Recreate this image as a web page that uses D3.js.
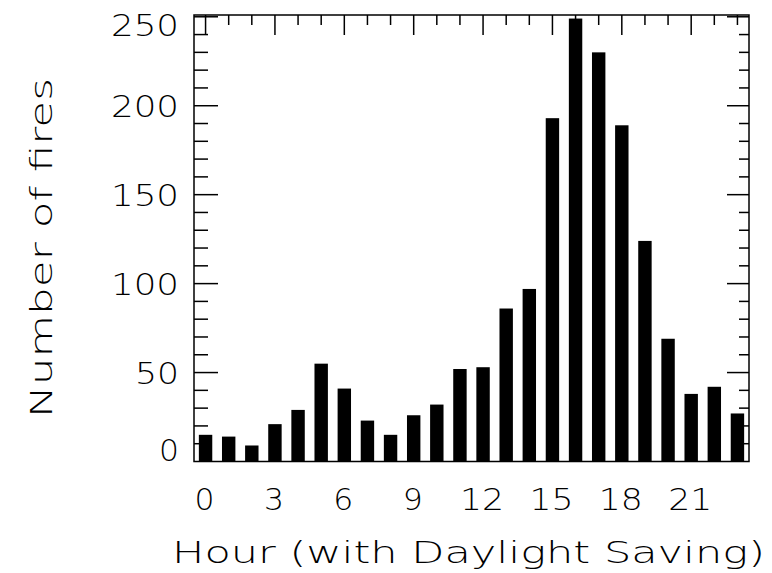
<!DOCTYPE html>
<html>
<head>
  <meta charset="utf-8">
  <script src="https://d3js.org/d3.v7.min.js"></script>
  <style>
    body { margin: 0; background: #fff; }
    text { font-family: "DejaVu Sans", sans-serif; font-weight: 200; fill: #000; }
  </style>
</head>
<body>
<div id="chart"></div>
<script>
  // fires per hour of the day (0..23)
  var hours = d3.range(0, 24);
  var fires = [15, 14, 9, 21, 29, 55, 41, 23, 15, 26, 32, 52, 53, 86, 97, 193, 249, 230, 189, 124, 69, 38, 42, 27];
  var xTickLabels = [0, 3, 6, 9, 12, 15, 18, 21];
  var yTickLabels = [0, 50, 100, 150, 200, 250];

  var width = 772, height = 573;
  var plotL = 194, plotR = 749, plotT = 15, plotB = 461.5;

  var svg = d3.select("#chart").append("svg")
    .attr("width", width)
    .attr("height", height);

  var x = d3.scaleLinear().domain([-0.5, 23.5]).range([plotL, plotR]);
  var y = d3.scaleLinear().domain([0, 251]).range([plotB, plotT]);

  // bars
  var barW = 0.58;
  svg.append("g").selectAll("rect")
    .data(hours)
    .enter().append("rect")
      .attr("x", function (d) { return x(d - barW / 2); })
      .attr("width", function (d) { return x(barW) - x(0); })
      .attr("y", function (d) { return y(fires[d]); })
      .attr("height", function (d) { return plotB - y(fires[d]); })
      .style("fill", "#000");

  // ticks on the top edge (pointing down)
  svg.append("g").selectAll("line")
    .data(hours)
    .enter().append("line")
      .attr("x1", function (d) { return x(d); })
      .attr("x2", function (d) { return x(d); })
      .attr("y1", plotT)
      .attr("y2", function (d) { return plotT + (d % 3 == 0 ? 20 : 10); })
      .style("stroke", "#000").style("stroke-width", 1.5);

  // ticks on left and right edges (pointing inward)
  var yTicks = d3.range(10, 251, 10);
  svg.append("g").selectAll("line")
    .data(yTicks)
    .enter().append("line")
      .attr("x1", plotL)
      .attr("x2", function (d) { return plotL + (d % 50 == 0 ? 24 : 14); })
      .attr("y1", function (d) { return y(d); })
      .attr("y2", function (d) { return y(d); })
      .style("stroke", "#000").style("stroke-width", 1.5);
  svg.append("g").selectAll("line")
    .data(yTicks)
    .enter().append("line")
      .attr("x1", plotR)
      .attr("x2", function (d) { return plotR - (d % 50 == 0 ? 22 : 10); })
      .attr("y1", function (d) { return y(d); })
      .attr("y2", function (d) { return y(d); })
      .style("stroke", "#000").style("stroke-width", 1.5);

  // frame
  svg.append("rect")
    .attr("x", plotL).attr("y", plotT)
    .attr("width", plotR - plotL).attr("height", plotB - plotT)
    .style("fill", "none").style("stroke", "#000").style("stroke-width", 1.5);

  // y tick labels
  svg.append("g").selectAll("text")
    .data(yTickLabels)
    .enter().append("text")
      .attr("x", 179)
      .attr("y", function (d) {
        var off = 11;
        if (d == 0) off = -1;
        if (d == 250) off = 19;
        return y(d) + off;
      })
      .attr("text-anchor", "end")
      .attr("textLength", function (d) { return String(d).length * 24 - 4; })
      .attr("lengthAdjust", "spacingAndGlyphs")
      .style("font-size", "30px")
      .text(function (d) { return d; });

  // x tick labels
  svg.append("g").selectAll("text")
    .data(xTickLabels)
    .enter().append("text")
      .attr("x", function (d) { return x(d) - (String(d).length * 24 - 4) / 2 - 1; })
      .attr("y", 510)
      .attr("textLength", function (d) { return String(d).length * 24 - 4; })
      .attr("lengthAdjust", "spacingAndGlyphs")
      .style("font-size", "30px")
      .text(function (d) { return d; });

  // axis titles
  svg.append("text")
    .attr("x", 172).attr("y", 563)
    .attr("textLength", 593)
    .attr("lengthAdjust", "spacingAndGlyphs")
    .style("font-size", "30px")
    .text("Hour (with Daylight Saving)");

  svg.append("text")
    .attr("transform", "translate(52,418) rotate(-90)")
    .attr("textLength", 340)
    .attr("lengthAdjust", "spacingAndGlyphs")
    .style("font-size", "30px")
    .text("Number of fires");
</script>
</body>
</html>
